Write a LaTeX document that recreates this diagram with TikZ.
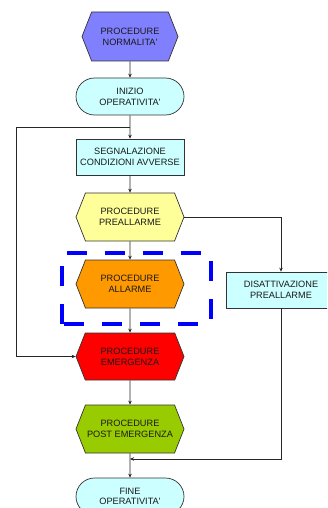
\documentclass[tikz,border=0pt]{standalone}
\usepackage{fontspec}
\setmainfont{Liberation Sans}
\usetikzlibrary{shapes.symbols, shapes.misc, arrows.meta, positioning}

\definecolor{normblue}{RGB}{128, 128, 255}
\definecolor{paleCyan}{RGB}{204, 255, 255}
\definecolor{preyellow}{RGB}{255, 255, 153}
\definecolor{allorange}{RGB}{255, 153, 0}
\definecolor{emerred}{RGB}{255, 0, 0}
\definecolor{postgreen}{RGB}{153, 204, 0}
\definecolor{dashblue}{RGB}{0, 0, 255}

\tikzset{
  boxtext/.style={align=center, inner sep=0pt, text=black!90, font=\fontsize{9.2}{10.7}\selectfont},
  hexbox/.style={boxtext, draw=black!80, line width=0.7pt, signal, signal to=west and east, signal pointer angle=137, minimum width=108pt, minimum height=48pt},
  roundbox/.style={boxtext, draw=black!80, line width=0.7pt, rounded rectangle, fill=paleCyan, minimum width=108pt, minimum height=37pt},
  plainbox/.style={boxtext, draw=black!80, line width=0.7pt, rectangle, fill=paleCyan, minimum height=36pt},
  link/.style={draw=black!85, line width=0.7pt, -{Stealth[length=4pt, width=3.5pt]}},
  dashbox/.style={draw=dashblue, line width=4pt, dash pattern=on 20pt off 18pt}
}

\begin{document}
\begin{tikzpicture}[x=1pt, y=-1pt]
  \useasboundingbox (0,0) rectangle (327,508);
  \clip (0,0) rectangle (327,508);

  % main column
  \node[hexbox, fill=normblue, minimum width=96pt, minimum height=49pt] (norm) at (130, 36.5) {PROCEDURE\\NORMALITA\textquotesingle};
  \node[roundbox] (init) at (130, 96.5) {INIZIO\\OPERATIVITA\textquotesingle};
  \node[plainbox, minimum width=108pt] (segn) at (130, 157) {SEGNALAZIONE\\CONDIZIONI AVVERSE};
  \node[hexbox, fill=preyellow] (pre) at (130, 217) {PROCEDURE\\PREALLARME};
  \node[hexbox, fill=allorange] (all) at (130, 284) {PROCEDURE\\ALLARME};
  \node[hexbox, fill=emerred, minimum height=47pt] (emer) at (130, 356.5) {PROCEDURE\\EMERGENZA};
  \node[hexbox, fill=postgreen] (post) at (130, 429) {PROCEDURE\\POST EMERGENZA};
  \node[roundbox] (fine) at (130, 496.5) {FINE\\OPERATIVITA\textquotesingle};

  % side branch
  \node[plainbox, minimum width=110pt] (dis) at (281, 290) {DISATTIVAZIONE\\PREALLARME};

  % dashed frame round the alarm step
  \draw[dashbox] (62, 324) rectangle (211, 253);

  % connectors
  \coordinate (split) at (130, 127);
  \coordinate (loop) at (16, 127);
  \coordinate (merge) at (130, 459);
  \draw[link] (norm) -- (init);
  \draw[link] (init) -- (segn);
  \draw[link] (segn) -- (pre);
  \draw[link] (pre) -- (all);
  \draw[link] (all) -- (emer);
  \draw[link] (emer) -- (post);
  \draw[link] (post) -- (fine);
  \draw[link] (pre.east) -| (dis.north);
  \draw[link] (split) -- (loop) |- (emer.west);
  \draw[link] (dis.south) |- (merge);
\end{tikzpicture}
\end{document}
